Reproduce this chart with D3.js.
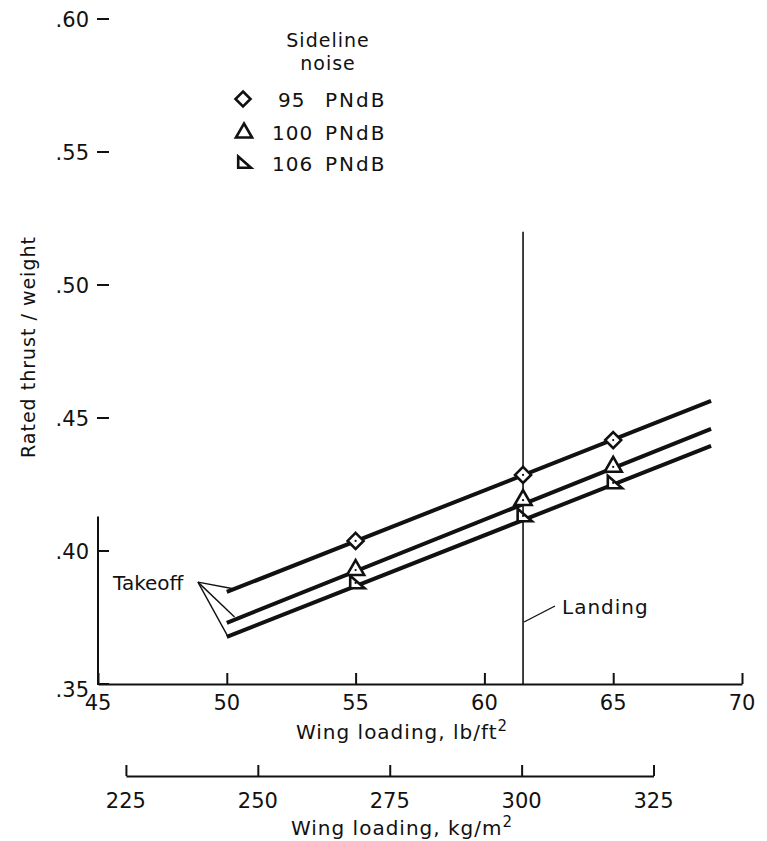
<!DOCTYPE html>
<html><head><meta charset="utf-8">
<script src="https://cdn.jsdelivr.net/npm/d3@7"></script>
<style>
html,body{margin:0;padding:0;background:#fff;}
svg text{font-family:"DejaVu Sans",sans-serif;fill:#111;}
</style></head>
<body><svg id="c" width="767" height="841"></svg>
<script>
// ---------- data ----------
const xTicks = [45, 50, 55, 60, 65, 70];
const yTicks = [0.35, 0.40, 0.45, 0.50, 0.55, 0.60];
const yTickLabels = [".35", ".40", ".45", ".50", ".55", ".60"];
const kgTicks = [225, 250, 275, 300, 325];
const lineX = [50, 68.8];
const line95 = [0.3846, 0.4564];
const line100 = [0.3730, 0.4459];
const line106 = [0.3677, 0.4395];
const markerX = [55, 61.5, 65];
const mark95 = [0.4038, 0.4286, 0.4417];
const mark100 = [0.3932, 0.4195, 0.4320];
const mark106 = [0.3880, 0.4132, 0.4256];
const legendNums = ["95", "100", "106"];
const landingX = 61.5;
const landingTop = 0.52;
const takeoffPoint = [48.88, 0.3883];
const takeoffEnds = [[50.3, 0.3857], [50.3, 0.3752], [50.05, 0.3677]];
const kgPerLb = 4.8824; // kg/m^2 per lb/ft^2

// ---------- layout ----------
const svg = d3.select("#c");
const x = d3.scaleLinear().domain([45, 70]).range([98, 742]);
const y = d3.scaleLinear().domain([0.35, 0.60]).range([684, 19]);
const xKg = d3.scaleLinear().domain([225, 325])
  .range([x(225 / kgPerLb), x(325 / kgPerLb)]);
const kgAxisY = 776;

// y axis (line visible only in lower part, like the original)
svg.append("line").attr("x1", x(45)).attr("x2", x(45))
  .attr("y1", y(0.413)).attr("y2", y(0.35)).attr("stroke", "#111").attr("stroke-width", 2);
svg.selectAll("line.ytick").data(yTicks).enter().append("line")
  .attr("x1", x(45) - 1).attr("x2", x(45) + 11)
  .attr("y1", d => y(d)).attr("y2", d => y(d)).attr("stroke", "#111").attr("stroke-width", 2);
svg.selectAll("text.ylab").data(yTicks).enter().append("text")
  .attr("x", 89).attr("y", (d, i) => y(d) + (i === 0 ? 13 : 8))
  .attr("text-anchor", "end").attr("font-size", 21).text((d, i) => yTickLabels[i]);

// x axis
const xAxisG = svg.append("g").attr("transform", `translate(0,${y(0.35)})`)
  .call(d3.axisTop(x).tickValues(xTicks).tickSize(11).tickSizeOuter(0).tickFormat(""));
xAxisG.select(".domain").attr("stroke", "#111").attr("stroke-width", 2);
xAxisG.selectAll(".tick line").attr("stroke", "#111").attr("stroke-width", 2);
svg.selectAll("text.xlab").data(xTicks).enter().append("text")
  .attr("x", d => x(d)).attr("y", 710).attr("text-anchor", "middle")
  .attr("font-size", 21).text(d => d);

const t1 = svg.append("text").attr("x", 402).attr("y", 739).attr("text-anchor", "middle")
  .attr("font-size", 20).attr("letter-spacing", 1);
t1.append("tspan").text("Wing loading,  lb/ft");
t1.append("tspan").attr("dy", -8).attr("font-size", 15).text("2");

// kg axis
const kgAxisG = svg.append("g").attr("transform", `translate(0,${kgAxisY})`)
  .call(d3.axisTop(xKg).tickValues(kgTicks).tickSize(11).tickSizeOuter(0).tickFormat(""));
kgAxisG.select(".domain").attr("stroke", "#111").attr("stroke-width", 2);
kgAxisG.selectAll(".tick line").attr("stroke", "#111").attr("stroke-width", 2);
svg.selectAll("text.kglab").data(kgTicks).enter().append("text")
  .attr("x", d => xKg(d)).attr("y", kgAxisY + 32).attr("text-anchor", "middle")
  .attr("font-size", 21).text(d => d);
const t2 = svg.append("text").attr("x", 402).attr("y", 835).attr("text-anchor", "middle")
  .attr("font-size", 20).attr("letter-spacing", 1);
t2.append("tspan").text("Wing loading,  kg/m");
t2.append("tspan").attr("dy", -8).attr("font-size", 15).text("2");

// y title
svg.append("text").attr("transform", `translate(35,347) rotate(-90)`)
  .attr("text-anchor", "middle").attr("font-size", 19).attr("letter-spacing", 1)
  .text("Rated thrust / weight");

// landing line
svg.append("line").attr("x1", x(landingX)).attr("x2", x(landingX))
  .attr("y1", y(landingTop)).attr("y2", y(0.35)).attr("stroke", "#111").attr("stroke-width", 1.6);
svg.append("line").attr("x1", x(landingX) + 1).attr("y1", 622).attr("x2", 555).attr("y2", 606)
  .attr("stroke", "#111").attr("stroke-width", 1.4);
svg.append("text").attr("x", 562).attr("y", 614).attr("font-size", 20).attr("letter-spacing", 1).text("Landing");

// series lines
const lineGen = d3.line().x(d => x(d[0])).y(d => y(d[1]));
[line95, line100, line106].forEach(s => {
  svg.append("path").datum(lineX.map((v, i) => [v, s[i]])).attr("d", lineGen)
    .attr("fill", "none").attr("stroke", "#111").attr("stroke-width", 4);
});

// takeoff annotation
svg.append("text").attr("x", 113).attr("y", 590).attr("font-size", 20).text("Takeoff");
takeoffEnds.forEach(e => {
  svg.append("line").attr("x1", x(takeoffPoint[0])).attr("y1", y(takeoffPoint[1]))
    .attr("x2", x(e[0])).attr("y2", y(e[1])).attr("stroke", "#111").attr("stroke-width", 1.4);
});

// markers
function diamond(g, cx, cy, r) {
  g.append("path").attr("d", `M${cx},${cy - r}L${cx + r},${cy}L${cx},${cy + r}L${cx - r},${cy}Z`)
    .attr("fill", "#fff").attr("stroke", "#111").attr("stroke-width", 2.6);
}
function triangle(g, cx, cy, r) {
  g.append("path").attr("d", `M${cx},${cy - r}L${cx + r * 0.95},${cy + r * 0.65}L${cx - r * 0.95},${cy + r * 0.65}Z`)
    .attr("fill", "#fff").attr("stroke", "#111").attr("stroke-width", 2.6);
}
function rtri(g, cx, cy, r) {
  g.append("path").attr("d", `M${cx - r * 0.6},${cy - r * 0.8}L${cx + r * 1.0},${cy + r * 0.6}L${cx - r * 0.6},${cy + r * 0.6}Z`)
    .attr("fill", "#fff").attr("stroke", "#111").attr("stroke-width", 2.6);
}
function dot(g, cx, cy) {
  g.append("circle").attr("cx", cx).attr("cy", cy).attr("r", 1.1).attr("fill", "#111");
}
const mg = svg.append("g");
markerX.forEach((mx, i) => { rtri(mg, x(mx), y(mark106[i]), 9); dot(mg, x(mx), y(mark106[i])); });
markerX.forEach((mx, i) => { triangle(mg, x(mx), y(mark100[i]), 9); dot(mg, x(mx), y(mark100[i]) + 1); });
markerX.forEach((mx, i) => { diamond(mg, x(mx), y(mark95[i]), 8); dot(mg, x(mx), y(mark95[i])); });

// legend
svg.append("text").attr("x", 328).attr("y", 47).attr("text-anchor", "middle").attr("font-size", 19).attr("letter-spacing", 1).text("Sideline");
svg.append("text").attr("x", 328).attr("y", 70).attr("text-anchor", "middle").attr("font-size", 19).attr("letter-spacing", 1).text("noise");
const legY = [99, 132, 163];
const lg = svg.append("g");
diamond(lg, 243, legY[0], 7.5);
triangle(lg, 244, legY[1], 8.5);
rtri(lg, 243, legY[2], 8);
const numX = [278, 272, 272];
legendNums.forEach((n, i) => {
  lg.append("text").attr("x", numX[i]).attr("y", legY[i] + 8).attr("font-size", 20).attr("letter-spacing", 1).text(n);
  lg.append("text").attr("x", 325).attr("y", legY[i] + 8).attr("font-size", 20).attr("letter-spacing", 2).text("PNdB");
});
</script></body></html>
